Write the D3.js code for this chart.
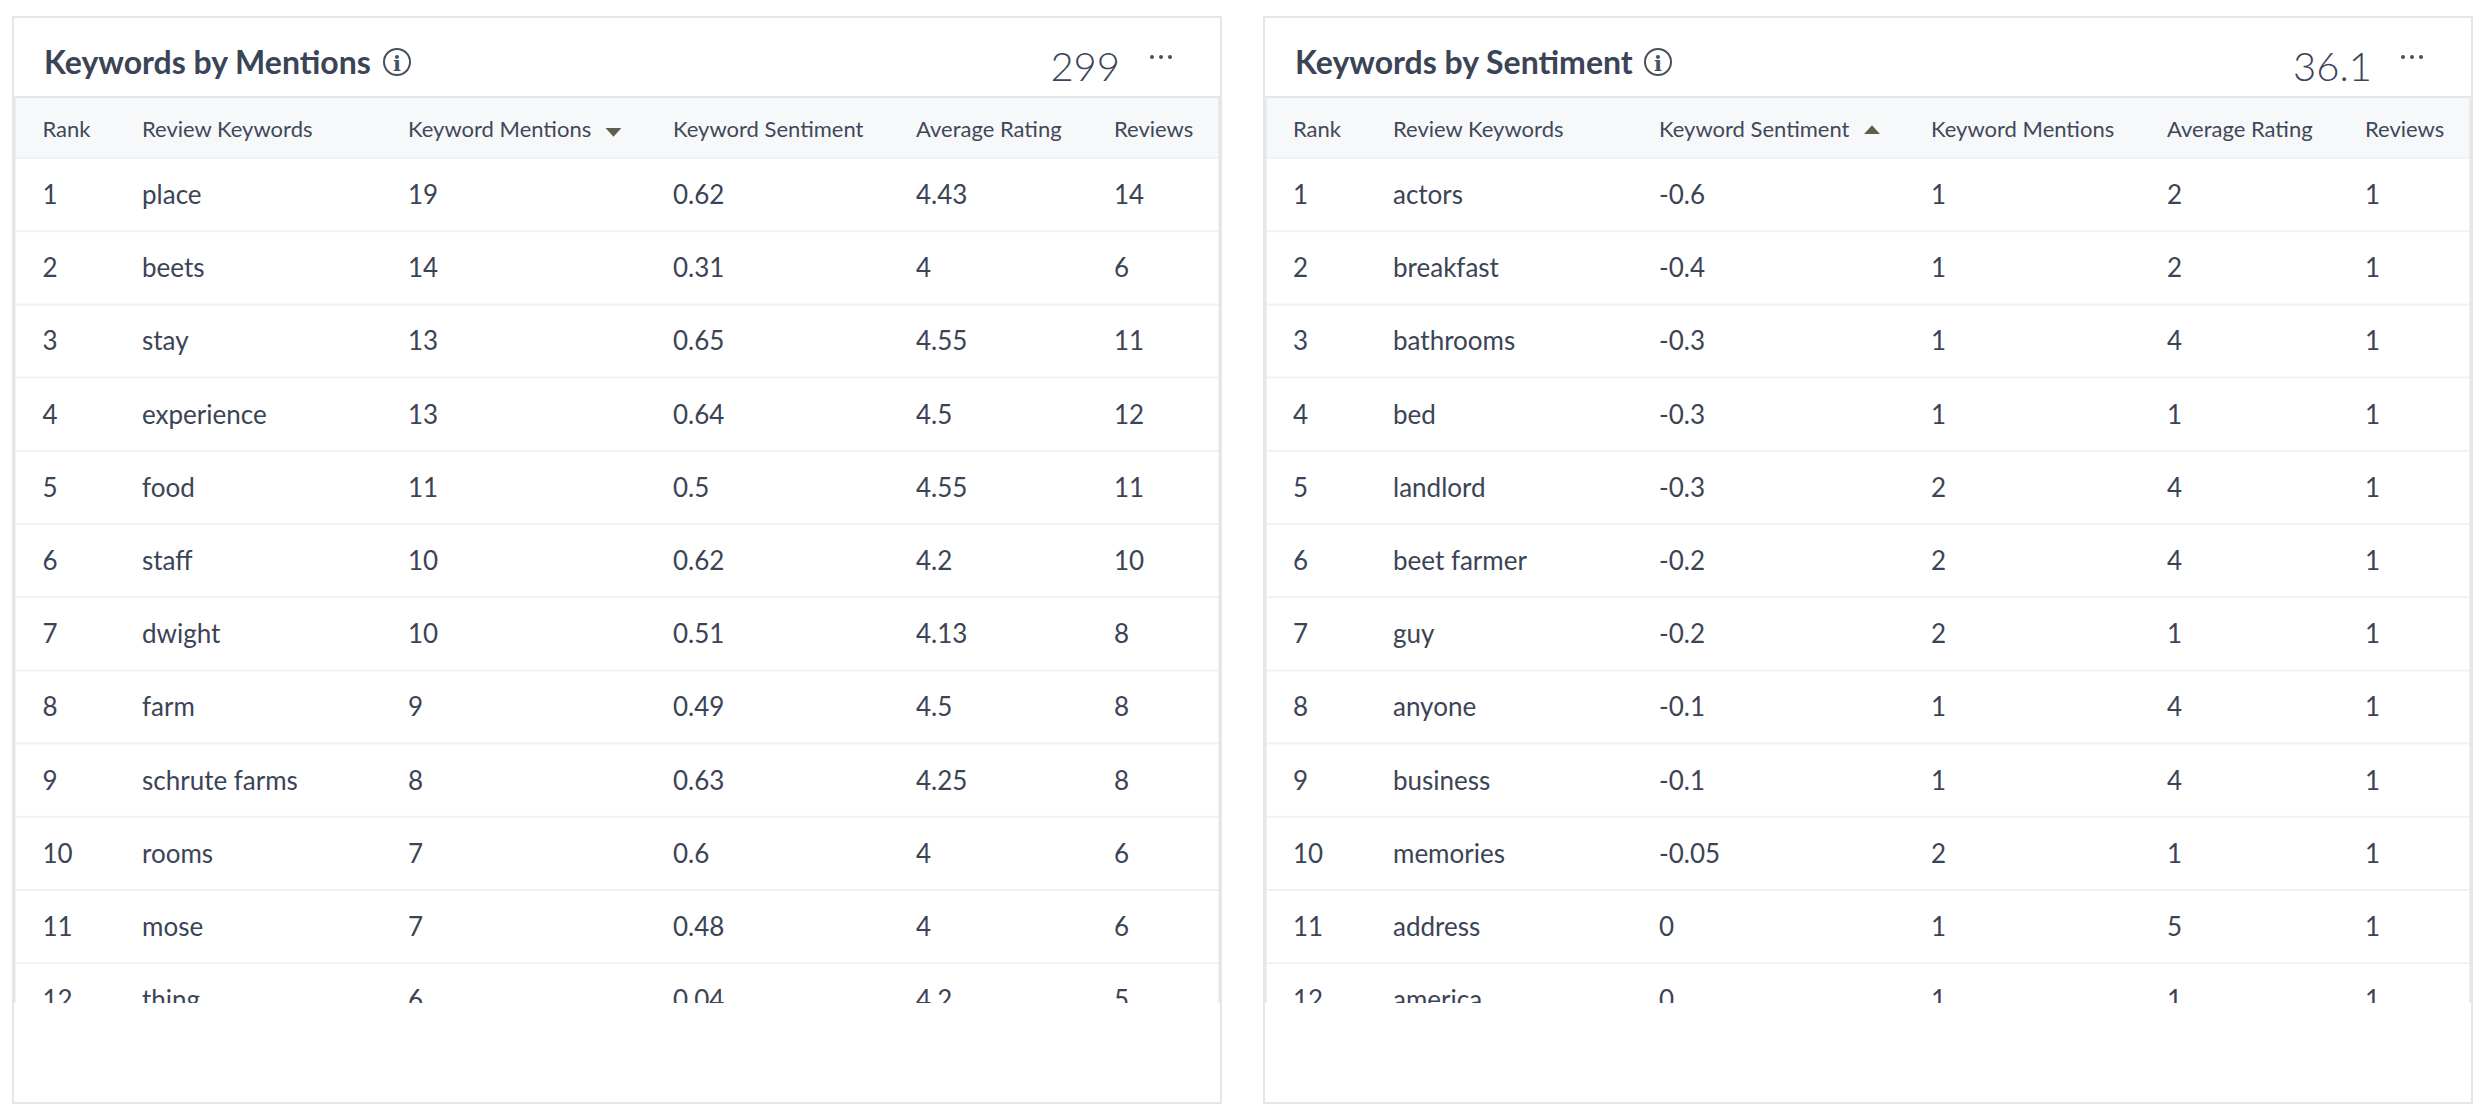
<!DOCTYPE html>
<html>
<head>
<meta charset="utf-8">
<script src="https://unpkg.com/d3@7/dist/d3.min.js"></script>
<style>
  html, body { margin: 0; padding: 0; background: #fff; }
  svg { display: block; font-family: Lato, sans-serif; }
</style>
</head>
<body>
<script>
// data
const ranks = [1, 2, 3, 4, 5, 6, 7, 8, 9, 10, 11, 12];

const mentionsKeywords = ["place", "beets", "stay", "experience", "food", "staff", "dwight", "farm", "schrute farms", "rooms", "mose", "thing"];
const mentionsCounts = ["19", "14", "13", "13", "11", "10", "10", "9", "8", "7", "7", "6"];
const mentionsSentiment = ["0.62", "0.31", "0.65", "0.64", "0.5", "0.62", "0.51", "0.49", "0.63", "0.6", "0.48", "0.04"];
const mentionsRating = ["4.43", "4", "4.55", "4.5", "4.55", "4.2", "4.13", "4.5", "4.25", "4", "4", "4.2"];
const mentionsReviews = ["14", "6", "11", "12", "11", "10", "8", "8", "8", "6", "6", "5"];

const sentimentKeywords = ["actors", "breakfast", "bathrooms", "bed", "landlord", "beet farmer", "guy", "anyone", "business", "memories", "address", "america"];
const sentimentScores = ["-0.6", "-0.4", "-0.3", "-0.3", "-0.3", "-0.2", "-0.2", "-0.1", "-0.1", "-0.05", "0", "0"];
const sentimentCounts = ["1", "1", "1", "1", "2", "2", "2", "1", "1", "2", "1", "1"];
const sentimentRating = ["2", "2", "4", "1", "4", "4", "1", "4", "4", "1", "5", "1"];
const sentimentReviews = ["1", "1", "1", "1", "1", "1", "1", "1", "1", "1", "1", "1"];

const mentionsHeaders = ["Rank", "Review Keywords", "Keyword Mentions", "Keyword Sentiment", "Average Rating", "Reviews"];
const sentimentHeaders = ["Rank", "Review Keywords", "Keyword Sentiment", "Keyword Mentions", "Average Rating", "Reviews"];

// layout-variables
const width = 2490;
const height = 1118;
const cardTop = 16;
const cardBottom = 1104;
const cardWidth = 1210;
const tableTop = 97;
const headerBottom = 158;
const tableBottom = 1003;
const rowHeight = 73.2;
const textColor = "#3b4456";
const borderColor = "#e3e7ea";

const svg = d3.select("body").append("svg").attr("width", width).attr("height", height);

const y = d3.scaleBand()
  .domain(ranks)
  .range([headerBottom, headerBottom + rowHeight * ranks.length]);

function drawCard(opts) {
  const card = svg.append("g").attr("transform", `translate(${opts.x},0)`);
  const clipId = "clip-" + opts.id;

  card.append("clipPath").attr("id", clipId)
    .append("rect")
    .attr("x", 0).attr("y", tableTop)
    .attr("width", cardWidth).attr("height", tableBottom - tableTop);

  card.append("rect")
    .attr("x", 1).attr("y", cardTop + 1)
    .attr("width", cardWidth - 2).attr("height", cardBottom - cardTop - 2)
    .attr("fill", "#fff").attr("stroke", borderColor).attr("stroke-width", 2);

  // title
  card.append("text")
    .attr("x", 32).attr("y", 74)
    .attr("font-size", 32).attr("font-weight", 700).attr("fill", textColor)
    .text(opts.title);

  const info = card.append("g").attr("transform", `translate(${opts.infoX},62)`);
  info.append("circle").attr("r", 13).attr("fill", "none").attr("stroke", "#46505f").attr("stroke-width", 2);
  info.append("text").attr("text-anchor", "middle").attr("y", 8.5)
    .attr("font-family", "'DejaVu Serif', serif").attr("font-weight", 700)
    .attr("font-size", 21).attr("fill", "#46505f").text("i");

  // total and menu
  card.append("text")
    .attr("x", opts.totalEnd).attr("y", 81).attr("text-anchor", "end")
    .attr("font-size", 40).attr("font-weight", 300).attr("fill", textColor)
    .text(opts.total);

  card.selectAll(".dot").data([-9, 0, 9]).enter().append("circle")
    .attr("class", "dot")
    .attr("cx", (d) => opts.menuX + d).attr("cy", 57).attr("r", 2).attr("fill", "#46505f");

  // table
  const table = card.append("g").attr("clip-path", `url(#${clipId})`);

  table.append("rect").attr("x", 2).attr("y", tableTop)
    .attr("width", cardWidth - 4).attr("height", headerBottom - tableTop).attr("fill", "#f7f8fa");

  const rows = table.selectAll(".row").data(ranks).enter().append("g")
    .attr("class", "row")
    .attr("transform", (d) => `translate(0,${y(d)})`);

  rows.filter((d, i) => i > 0).append("line")
    .attr("x1", 2).attr("x2", cardWidth - 2)
    .attr("stroke", "#eff1f3").attr("stroke-width", 2);

  opts.columns.forEach((values, c) => {
    rows.append("text")
      .attr("x", opts.columnX[c])
      .attr("y", y.bandwidth() / 2 + 9.5)
      .attr("font-size", 26).attr("fill", textColor)
      .text((d, i) => values[i]);
  });

  // header row
  table.selectAll(".head").data(opts.headers).enter().append("text")
    .attr("class", "head")
    .attr("x", (d, i) => opts.columnX[i])
    .attr("y", 137)
    .attr("font-size", 22).attr("fill", "#3f4859")
    .text((d) => d);

  const [ax, dir] = opts.arrow;
  card.append("path")
    .attr("d", d3.symbol(d3.symbolTriangle, 90))
    .attr("transform", `translate(${ax},131) rotate(${dir === "down" ? 180 : 0}) scale(1.1,0.7)`)
    .attr("fill", "#5c5f4c");

  // lines around the table
  card.append("line").attr("x1", 2).attr("x2", cardWidth - 2)
    .attr("y1", tableTop).attr("y2", tableTop).attr("stroke", borderColor).attr("stroke-width", 2);
  card.append("line").attr("x1", 2).attr("x2", cardWidth - 2)
    .attr("y1", headerBottom).attr("y2", headerBottom).attr("stroke", "#eff1f3").attr("stroke-width", 2);
  card.selectAll(".side").data([2, cardWidth - 2]).enter().append("line")
    .attr("class", "side")
    .attr("x1", (d) => d).attr("x2", (d) => d)
    .attr("y1", tableTop).attr("y2", tableBottom)
    .attr("stroke", borderColor).attr("stroke-width", 3);
}

drawCard({
  id: "mentions",
  x: 12,
  title: "Keywords by Mentions",
  infoX: 385,
  total: "299",
  totalEnd: 1108,
  menuX: 1149,
  headers: mentionsHeaders,
  columnX: [30.5, 130, 396, 661, 904, 1102],
  columns: [ranks, mentionsKeywords, mentionsCounts, mentionsSentiment, mentionsRating, mentionsReviews],
  arrow: [601.5, "down"],
});

drawCard({
  id: "sentiment",
  x: 1263,
  title: "Keywords by Sentiment",
  infoX: 395,
  total: "36.1",
  totalEnd: 1109,
  menuX: 1149,
  headers: sentimentHeaders,
  columnX: [30, 130, 396, 668, 904, 1102],
  columns: [ranks, sentimentKeywords, sentimentScores, sentimentCounts, sentimentRating, sentimentReviews],
  arrow: [609, "up"],
});
</script>
</body>
</html>
